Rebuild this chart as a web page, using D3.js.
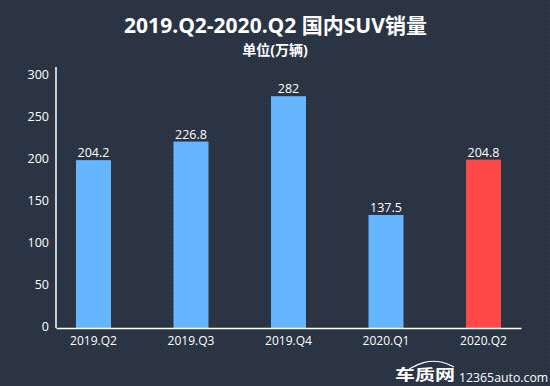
<!DOCTYPE html>
<html>
<head>
<meta charset="utf-8">
<script src="https://cdn.jsdelivr.net/npm/d3@7"></script>
<style>
html, body { margin: 0; padding: 0; background: #2a3443; }
svg { display: block; }
text { font-family: "Open Sans", "Noto Sans CJK SC", sans-serif; fill: #fff; }
</style>
</head>
<body>
<div id="chart"></div>
<script>
var categories = ["2019.Q2", "2019.Q3", "2019.Q4", "2020.Q1", "2020.Q2"];
var sales = [204.2, 226.8, 282, 137.5, 204.8];
var colors = ["#66b5ff", "#66b5ff", "#66b5ff", "#66b5ff", "#ff4848"];
var yTicks = [0, 50, 100, 150, 200, 250, 300];

var width = 550, height = 386;
var margin = {top: 67, right: 29, bottom: 58, left: 56};
var ew = width - margin.left - margin.right;
var eh = height - margin.top - margin.bottom;

var SVG = d3.select("#chart").append("svg")
	.attr("width", width)
	.attr("height", height);

// dotted background texture
var pattern = SVG.append("defs").append("pattern")
	.attr("id", "dots")
	.attr("width", 4)
	.attr("height", 4)
	.attr("patternUnits", "userSpaceOnUse");
pattern.append("rect").attr("width", 4).attr("height", 4).attr("fill", "#2c3646");
pattern.append("rect").attr("width", 1).attr("height", 1).attr("fill", "#1e2632");
pattern.append("rect").attr("x", 2).attr("y", 2).attr("width", 1).attr("height", 1).attr("fill", "#1e2632");
SVG.append("rect").attr("width", width).attr("height", height).attr("fill", "url(#dots)");

SVG.append("text")
	.attr("x", 275.5).attr("y", 33)
	.attr("text-anchor", "middle")
	.attr("font-size", 21)
	.attr("font-weight", 700)
	.text("2019.Q2-2020.Q2 国内SUV销量");
SVG.append("text")
	.attr("x", 275).attr("y", 55)
	.attr("text-anchor", "middle")
	.attr("font-size", 14)
	.attr("font-weight", 700)
	.text("单位(万辆)");

var svg = SVG.append("g")
	.attr("transform", "translate(" + margin.left + "," + margin.top + ")");

var x = d3.scaleBand()
	.domain(categories)
	.range([0, ew])
	.paddingInner(0.641)
	.paddingOuter(0.205);
// the bars and the axis labels sit on slightly different scales in the picture
var y = d3.scaleLinear()
	.domain([0, 300])
	.range([eh, eh - 246.6]);
var yLabels = d3.scaleLinear()
	.domain([0, 300])
	.range([eh - 2, eh - 254]);

svg.selectAll(".bar")
	.data(sales)
	.join("rect")
	.attr("class", "bar")
	.attr("x", (d, i) => x(categories[i]))
	.attr("y", d => y(d))
	.attr("width", x.bandwidth())
	.attr("height", d => y(0) - y(d))
	.attr("fill", (d, i) => colors[i]);

svg.selectAll(".val")
	.data(sales)
	.join("text")
	.attr("class", "val")
	.attr("x", (d, i) => x(categories[i]) + x.bandwidth() / 2)
	.attr("y", d => y(d) - 3)
	.attr("text-anchor", "middle")
	.attr("font-size", 12.5)
	.text(d => d);

var xAxis = svg.append("g")
	.attr("transform", "translate(0," + eh + ")")
	.call(d3.axisBottom(x).tickSize(0).tickPadding(8));
xAxis.selectAll("text").attr("font-size", 12).attr("font-family", null);
xAxis.select(".domain").attr("stroke", "#fff").attr("stroke-width", 1.5);

var yAxis = svg.append("g")
	.call(d3.axisLeft(yLabels).tickValues(yTicks).tickSize(0).tickPadding(7));
yAxis.selectAll("text").attr("font-size", 12.5).attr("font-family", null);
yAxis.select(".domain").remove();
svg.append("line")
	.attr("y1", 0).attr("y2", eh)
	.attr("stroke", "#fff").attr("stroke-width", 1.5);

// watermark
var mark = SVG.append("g");
mark.append("text")
	.attr("transform", "translate(395,380) scale(1,0.72)")
	.attr("font-size", 20)
	.attr("font-weight", 700)
	.text("车质网");
mark.append("path")
	.attr("d", d3.line().curve(d3.curveBasis)([[409, 369], [424, 361], [442, 361], [454, 367]]))
	.attr("fill", "none")
	.attr("stroke", "#fff")
	.attr("stroke-width", 1.2);
mark.append("text")
	.attr("x", 459).attr("y", 382)
	.attr("font-family", "Liberation Sans")
	.attr("font-size", 12.3)
	.text("12365auto.com");
</script>
</body>
</html>
